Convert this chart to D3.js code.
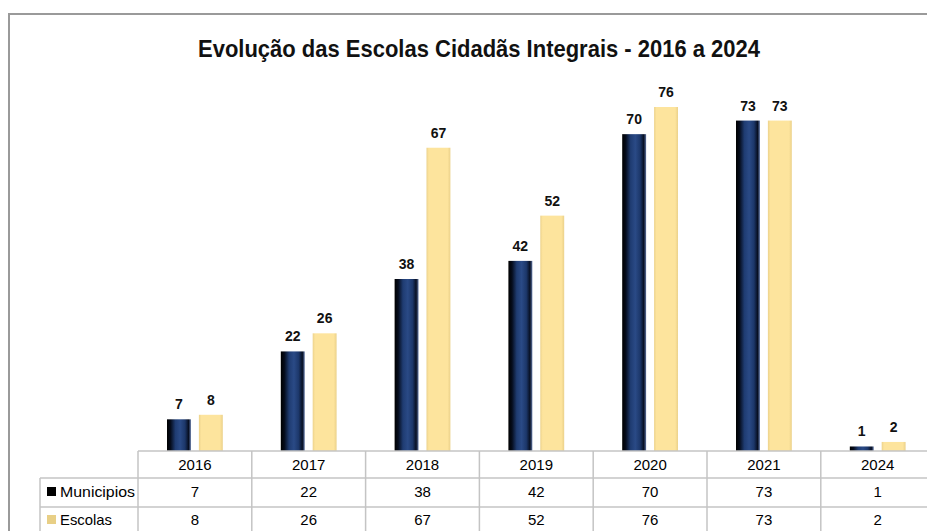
<!DOCTYPE html>
<html><head><meta charset="utf-8">
<script src="https://cdn.jsdelivr.net/npm/d3@7"></script>
<style>
html,body{margin:0;padding:0;background:#fff;}
svg{display:block;}
text{font-family:"Liberation Sans","Arimo",Arial,sans-serif;}
</style></head>
<body>
<svg id="chart" width="927" height="531"></svg>
<script>
const title = "Evolução das Escolas Cidadãs Integrais - 2016 a 2024";
const categories = ["2016","2017","2018","2019","2020","2021","2024"];
const seriesNames = ["Municipios","Escolas"];
const municipios = [7,22,38,42,70,73,1];
const escolas = [8,26,67,52,76,73,2];
const seriesValues = [municipios, escolas];

const svg = d3.select("#chart");
const W = 927, H = 531;
const plotLeft = 138, colW = 113.8;
const baseY = 451;
const x = d3.scaleBand().domain(categories).range([plotLeft, plotLeft + colW*categories.length]).paddingInner(0).paddingOuter(0);
const xs = d3.scaleBand().domain(seriesNames).range([0, colW]).paddingInner(0.25).paddingOuter(0.91);
const y = d3.scaleLinear().domain([0, 76]).range([baseY, 107]);

const defs = svg.append("defs");
const g1 = defs.append("linearGradient").attr("id","gM").attr("x1","0").attr("x2","1").attr("y1","0").attr("y2","0");
[["0%","#000000"],["15%","#050c1c"],["35%","#1f3c72"],["55%","#2a4a86"],["75%","#1c376a"],["90%","#070f22"],["100%","#5c72a0"]].forEach(s=>g1.append("stop").attr("offset",s[0]).attr("stop-color",s[1]));
const g2 = defs.append("linearGradient").attr("id","gE").attr("x1","0").attr("x2","1").attr("y1","0").attr("y2","0");
[["0%","#ecd28c"],["10%","#fde49d"],["88%","#fde49d"],["100%","#ebd18a"]].forEach(s=>g2.append("stop").attr("offset",s[0]).attr("stop-color",s[1]));
const fills = ["url(#gM)","url(#gE)"];
const legendColors = ["#000000","#e8cf86"];

// outer border
svg.append("path").attr("d",`M9,${H} L9,14 L${W},14`).attr("fill","none").attr("stroke","#9a9a9a").attr("stroke-width",2);

// title
svg.append("text").attr("x",479).attr("y",57).attr("text-anchor","middle")
  .attr("font-size",24).attr("font-weight","bold").attr("fill","#111")
  .attr("textLength",562).attr("lengthAdjust","spacingAndGlyphs").text(title);

// bars
seriesNames.forEach((s,si)=>{
  const vals = seriesValues[si];
  svg.append("g").selectAll("rect").data(categories).join("rect")
    .attr("x",(c)=>x(c)+xs(s))
    .attr("y",(c,i)=>y(vals[i]))
    .attr("width",xs.bandwidth())
    .attr("height",(c,i)=>baseY - y(vals[i]))
    .attr("fill",fills[si]);
  svg.append("g").selectAll("text").data(categories).join("text")
    .attr("x",(c)=>x(c)+xs(s)+xs.bandwidth()/2)
    .attr("y",(c,i)=>y(vals[i]) - 10)
    .attr("text-anchor","middle").attr("font-size",14).attr("font-weight","bold").attr("fill","#111")
    .text((c,i)=>vals[i]);
});

// data table
const tableRight = plotLeft + colW*categories.length;
const lineColor = "#c4c4c4";
svg.append("line").attr("x1",plotLeft).attr("x2",tableRight).attr("y1",baseY).attr("y2",baseY).attr("stroke",lineColor).attr("stroke-width",1.5);
[478,507].forEach(yy=>svg.append("line").attr("x1",40).attr("x2",tableRight).attr("y1",yy).attr("y2",yy).attr("stroke",lineColor).attr("stroke-width",1.5));
svg.append("line").attr("x1",40).attr("x2",40).attr("y1",478).attr("y2",H).attr("stroke",lineColor).attr("stroke-width",1.5);
categories.forEach(c=>{
  svg.append("line").attr("x1",x(c)).attr("x2",x(c)).attr("y1",baseY).attr("y2",H).attr("stroke",lineColor).attr("stroke-width",1.5);
});
svg.append("g").selectAll("text").data(categories).join("text")
  .attr("x",c=>x(c)+colW/2).attr("y",470).attr("text-anchor","middle").attr("font-size",15).attr("fill","#000").text(c=>c);
seriesNames.forEach((s,si)=>{
  const vals = seriesValues[si];
  const ty = si===0 ? 497 : 525;
  svg.append("rect").attr("x",47).attr("y",ty-10).attr("width",9).attr("height",9).attr("fill",legendColors[si]);
  svg.append("text").attr("x",60).attr("y",ty).attr("font-size",15).attr("fill","#000")
    .attr("textLength",75).attr("lengthAdjust","spacingAndGlyphs").text(s).attr("textLength", si===0?75:52);
  svg.append("g").selectAll("text").data(categories).join("text")
    .attr("x",c=>x(c)+colW/2).attr("y",ty).attr("text-anchor","middle").attr("font-size",15).attr("fill","#000")
    .text((c,i)=>vals[i]);
});
</script>
</body></html>
